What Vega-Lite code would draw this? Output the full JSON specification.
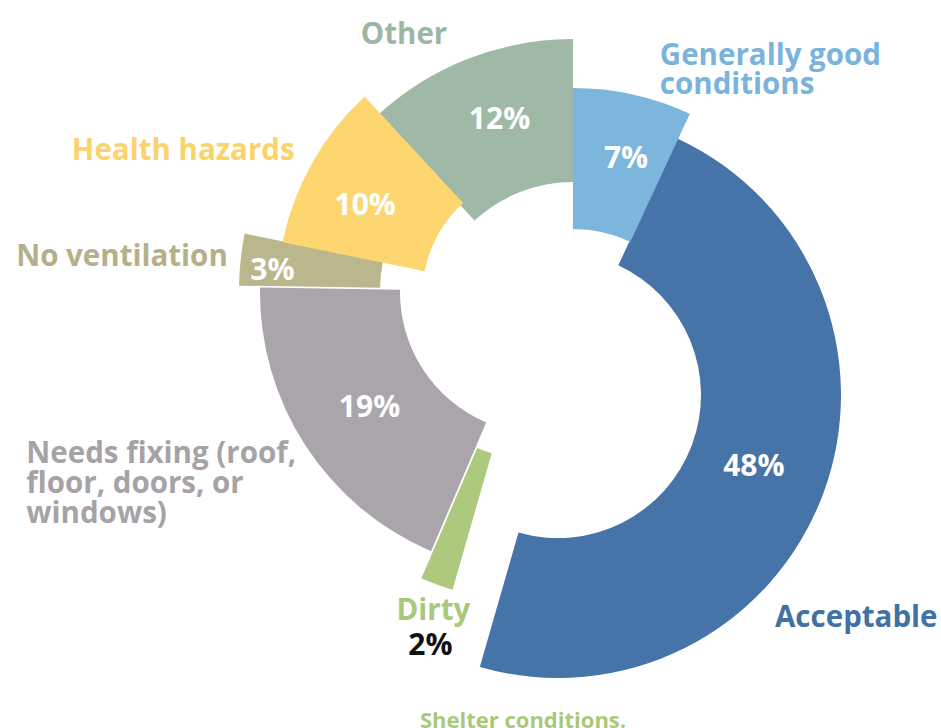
{
  "$schema": "https://vega.github.io/schema/vega-lite/v6.json",
  "width": 772,
  "height": 660,
  "autosize": {"type": "none"},
  "padding": {"left": 169, "top": 0, "right": 0, "bottom": 68},
  "background": "white",
  "config": {"view": {"stroke": null}, "font": "Open Sans", "text": {"font": "Open Sans"}},
  "title": {"text": "Shelter conditions.", "orient": "bottom", "anchor": "middle", "frame": "group", "baseline": "alphabetic", "dx": -32, "offset": 50, "fontSize": 22, "fontWeight": "bold", "color": "#a9c97a", "font": "Open Sans"},
  "data": {"values": [
    {"order": 1, "category": "Generally good\nconditions", "share": 0.07},
    {"order": 2, "category": "Acceptable", "share": 0.48},
    {"order": 3, "category": "Dirty", "share": 0.02},
    {"order": 4, "category": "Needs fixing (roof,\nfloor, doors, or\nwindows)", "share": 0.19},
    {"order": 5, "category": "No ventilation", "share": 0.03},
    {"order": 6, "category": "Health hazards", "share": 0.10},
    {"order": 7, "category": "Other", "share": 0.12}
  ]},
  "transform": [
    {"stack": "share", "groupby": [], "sort": [{"field": "order", "order": "ascending"}], "as": ["s0", "s1"]},
    {"fold": ["s0", "s1"], "as": ["edge", "angle"]},
    {"aggregate": [
      {"op": "min", "field": "angle", "as": "start"},
      {"op": "max", "field": "angle", "as": "end"},
      {"op": "mean", "field": "angle", "as": "mid"}
    ], "groupby": ["order", "category", "share"]}
  ],
  "layer": [
    {"transform": [{"filter": "datum.order === 2"}],
     "mark": {"type": "arc", "radius": 283, "radius2": 143, "xOffset": 3, "yOffset": 65, "color": "#4674a8"},
     "encoding": {"theta": {"field": "start", "type": "quantitative", "stack": null, "scale": {"domain": [0, 1.01], "range": [0, 6.283185307179586]}}, "theta2": {"field": "end"}}},
    {"transform": [{"filter": "datum.order === 1"}],
     "mark": {"type": "arc", "radius": 277, "radius2": 136, "xOffset": 18, "yOffset": 35, "color": "#7db6dd"},
     "encoding": {"theta": {"field": "start", "type": "quantitative", "stack": null, "scale": {"domain": [0, 1.01], "range": [0, 6.283185307179586]}}, "theta2": {"field": "end"}}},
    {"transform": [{"filter": "datum.order === 7"}],
     "mark": {"type": "arc", "radius": 288, "radius2": 145, "xOffset": 18, "yOffset": -3, "color": "#a0b9a7"},
     "encoding": {"theta": {"field": "start", "type": "quantitative", "stack": null, "scale": {"domain": [0, 1.01], "range": [0, 6.283185307179586]}}, "theta2": {"field": "end"}}},
    {"transform": [{"filter": "datum.order === 4"}],
     "mark": {"type": "arc", "radius": 282, "radius2": 142, "xOffset": -13, "yOffset": -38, "color": "#a9a5aa"},
     "encoding": {"theta": {"field": "start", "type": "quantitative", "stack": null, "scale": {"domain": [0, 1.01], "range": [0, 6.283185307179586]}}, "theta2": {"field": "end"}}},
    {"transform": [{"filter": "datum.order === 3"}],
     "mark": {"type": "arc", "radius": 266, "radius2": 124, "xOffset": -29, "yOffset": 4, "color": "#acc97d"},
     "encoding": {"theta": {"field": "start", "type": "quantitative", "stack": null, "scale": {"domain": [0, 1.01], "range": [0, 6.283185307179586]}}, "theta2": {"field": "end"}}},
    {"transform": [{"filter": "datum.order === 5"}],
     "mark": {"type": "arc", "radius": 281, "radius2": 140, "xOffset": -35, "yOffset": -40, "color": "#bcb68d"},
     "encoding": {"theta": {"field": "start", "type": "quantitative", "stack": null, "scale": {"domain": [0, 1.01], "range": [0, 6.283185307179586]}}, "theta2": {"field": "end"}}},
    {"transform": [{"filter": "datum.order === 6"}],
     "mark": {"type": "arc", "radius": 273, "radius2": 128, "xOffset": -5, "yOffset": -33, "color": "#fdd66f"},
     "encoding": {"theta": {"field": "start", "type": "quantitative", "stack": null, "scale": {"domain": [0, 1.01], "range": [0, 6.283185307179586]}}, "theta2": {"field": "end"}}},

    {"transform": [{"filter": "datum.order === 1"}],
     "encoding": {"theta": {"field": "mid", "type": "quantitative", "stack": null, "scale": {"domain": [0, 1.01], "range": [0, 6.283185307179586]}}},
     "layer": [
       {"mark": {"type": "text", "radius": 213, "xOffset": 18, "yOffset": 35, "dx": 7, "dy": 2, "color": "white", "fontSize": 30, "fontWeight": "bold"},
        "encoding": {"text": {"field": "share", "type": "quantitative", "format": ".0%"}}},
       {"mark": {"type": "text", "radius": 300, "xOffset": 18, "yOffset": 35, "dx": 22, "dy": -7, "align": "left", "baseline": "alphabetic", "lineBreak": "\n", "lineHeight": 29, "color": "#7ab3dc", "fontSize": 29.5, "fontWeight": "bold"},
        "encoding": {"text": {"field": "category", "type": "nominal"}}}
     ]},
    {"transform": [{"filter": "datum.order === 2"}],
     "encoding": {"theta": {"field": "mid", "type": "quantitative", "stack": null, "scale": {"domain": [0, 1.01], "range": [0, 6.283185307179586]}}},
     "layer": [
       {"mark": {"type": "text", "radius": 208, "xOffset": 3, "yOffset": 65, "dx": 1, "dy": -1, "color": "white", "fontSize": 30, "fontWeight": "bold"},
        "encoding": {"text": {"field": "share", "type": "quantitative", "format": ".0%"}}},
       {"mark": {"type": "text", "radius": 300, "xOffset": 3, "yOffset": 65, "dx": -64, "dy": 127, "align": "left", "baseline": "alphabetic", "color": "#4171a5", "fontSize": 29.5, "fontWeight": "bold"},
        "encoding": {"text": {"field": "category", "type": "nominal"}}}
     ]},
    {"transform": [{"filter": "datum.order === 3"}],
     "encoding": {"theta": {"field": "mid", "type": "quantitative", "stack": null, "scale": {"domain": [0, 1.01], "range": [0, 6.283185307179586]}}},
     "layer": [
       {"mark": {"type": "text", "radius": 300, "xOffset": -29, "yOffset": 4, "dx": 5, "dy": 38, "baseline": "alphabetic", "color": "#111111", "fontSize": 30, "fontWeight": "bold"},
        "encoding": {"text": {"field": "share", "type": "quantitative", "format": ".0%"}}},
       {"mark": {"type": "text", "radius": 300, "xOffset": -29, "yOffset": 4, "dx": 8, "dy": 3, "baseline": "alphabetic", "color": "#a9c97a", "fontSize": 29.5, "fontWeight": "bold"},
        "encoding": {"text": {"field": "category", "type": "nominal"}}}
     ]},
    {"transform": [{"filter": "datum.order === 4"}],
     "encoding": {"theta": {"field": "mid", "type": "quantitative", "stack": null, "scale": {"domain": [0, 1.01], "range": [0, 6.283185307179586]}}},
     "layer": [
       {"mark": {"type": "text", "radius": 208, "xOffset": -13, "yOffset": -38, "dx": 2, "dy": 3, "color": "white", "fontSize": 30, "fontWeight": "bold"},
        "encoding": {"text": {"field": "share", "type": "quantitative", "format": ".0%"}}},
       {"mark": {"type": "text", "radius": 300, "xOffset": -13, "yOffset": -38, "dx": -264, "dy": 8, "align": "left", "baseline": "alphabetic", "lineBreak": "\n", "lineHeight": 30, "color": "#a6a3a7", "fontSize": 29.5, "fontWeight": "bold"},
        "encoding": {"text": {"field": "category", "type": "nominal"}}}
     ]},
    {"transform": [{"filter": "datum.order === 5"}],
     "encoding": {"theta": {"field": "mid", "type": "quantitative", "stack": null, "scale": {"domain": [0, 1.01], "range": [0, 6.283185307179586]}}},
     "layer": [
       {"mark": {"type": "text", "radius": 248, "xOffset": -35, "yOffset": -40, "dx": -1, "dy": 8, "color": "white", "fontSize": 30, "fontWeight": "bold"},
        "encoding": {"text": {"field": "share", "type": "quantitative", "format": ".0%"}}},
       {"mark": {"type": "text", "radius": 300, "xOffset": -35, "yOffset": -40, "dx": 6, "dy": 9, "align": "right", "baseline": "alphabetic", "color": "#b5b089", "fontSize": 29.5, "fontWeight": "bold"},
        "encoding": {"text": {"field": "category", "type": "nominal"}}}
     ]},
    {"transform": [{"filter": "datum.order === 6"}],
     "encoding": {"theta": {"field": "mid", "type": "quantitative", "stack": null, "scale": {"domain": [0, 1.01], "range": [0, 6.283185307179586]}}},
     "layer": [
       {"mark": {"type": "text", "radius": 203, "xOffset": -9, "yOffset": -32, "dx": -4, "dy": 8, "color": "white", "fontSize": 30, "fontWeight": "bold"},
        "encoding": {"text": {"field": "share", "type": "quantitative", "format": ".0%"}}},
       {"mark": {"type": "text", "radius": 300, "xOffset": -9, "yOffset": -32, "dx": 10, "dy": 9, "align": "right", "baseline": "alphabetic", "color": "#fbd36b", "fontSize": 29.5, "fontWeight": "bold"},
        "encoding": {"text": {"field": "category", "type": "nominal"}}}
     ]},
    {"transform": [{"filter": "datum.order === 7"}],
     "encoding": {"theta": {"field": "mid", "type": "quantitative", "stack": null, "scale": {"domain": [0, 1.01], "range": [0, 6.283185307179586]}}},
     "layer": [
       {"mark": {"type": "text", "radius": 218, "xOffset": 18, "yOffset": -5, "dx": 6, "dy": -2, "color": "white", "fontSize": 30, "fontWeight": "bold"},
        "encoding": {"text": {"field": "share", "type": "quantitative", "format": ".0%"}}},
       {"mark": {"type": "text", "radius": 312, "xOffset": 18, "yOffset": -5, "dx": -12, "dy": 10, "align": "right", "baseline": "alphabetic", "color": "#9db6a4", "fontSize": 29.5, "fontWeight": "bold"},
        "encoding": {"text": {"field": "category", "type": "nominal"}}}
     ]}
  ]
}
